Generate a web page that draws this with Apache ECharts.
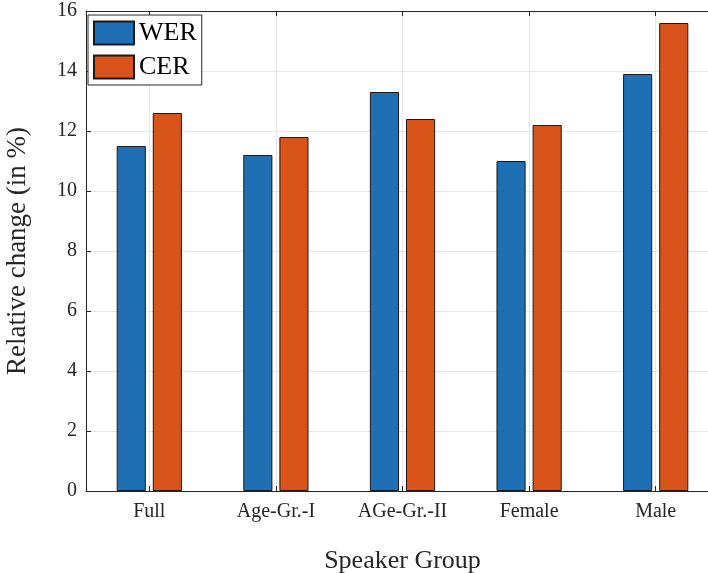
<!DOCTYPE html>
<html>
<head>
<meta charset="utf-8">
<script src="https://cdn.jsdelivr.net/npm/echarts@6/dist/echarts.min.js"></script>
<style>html,body{margin:0;padding:0;background:#fff}#c{width:708px;height:573px}</style>
</head>
<body>
<div id="c"></div>
<script>
const categories = ['Full', 'Age-Gr.-I', 'AGe-Gr.-II', 'Female', 'Male'];
const werValues = [11.5, 11.2, 13.3, 11.0, 13.9];
const cerValues = [12.6, 11.8, 12.4, 12.2, 15.6];
const yTicks = [0, 2, 4, 6, 8, 10, 12, 14, 16];

const font = 'Liberation Serif';
const axisColor = '#262626';
const gridColor = '#e6e6e6';

const chart = echarts.init(document.getElementById('c'));
chart.setOption({
  animation: false,
  grid: { left: 86, top: 11, width: 633, height: 480, containLabel: false, outerBoundsMode: 'none' },
  legend: {
    orient: 'vertical', left: 88, top: 15,
    itemWidth: 40, itemHeight: 23, itemGap: 8, itemTextGap: 4,
    padding: [5, 5, 5, 5],
    borderColor: axisColor, borderWidth: 1, backgroundColor: '#fff',
    textStyle: { fontFamily: font, fontSize: 26, color: '#000' },
    icon: 'rect',
    data: ['WER', 'CER']
  },
  xAxis: [{
    type: 'category', data: categories, position: 'bottom',
    axisLine: { lineStyle: { color: axisColor, width: 1 } },
    axisTick: { show: true, inside: true, alignWithLabel: true, length: 5, lineStyle: { color: axisColor } },
    axisLabel: { fontFamily: font, fontSize: 20, color: '#262626', margin: 11 },
    splitLine: { show: true, alignWithLabel: true, lineStyle: { color: gridColor, width: 1 } },
    name: 'Speaker Group', nameLocation: 'middle', nameGap: 57,
    nameTextStyle: { fontFamily: font, fontSize: 26, color: '#262626' }
  }, {
    type: 'category', data: categories, position: 'top',
    axisLine: { lineStyle: { color: axisColor, width: 1 } },
    axisTick: { show: true, inside: true, alignWithLabel: true, length: 5, lineStyle: { color: axisColor } },
    axisLabel: { show: false }, splitLine: { show: false }
  }],
  yAxis: {
    type: 'value', min: 0, max: 16, interval: 2,
    axisLine: { show: true, lineStyle: { color: axisColor, width: 1 } },
    axisTick: { show: true, inside: true, length: 5, lineStyle: { color: axisColor } },
    axisLabel: { fontFamily: font, fontSize: 20, color: '#262626', margin: 9,
      formatter: v => yTicks.includes(v) ? String(v) : '' },
    splitLine: { show: true, lineStyle: { color: gridColor, width: 1 } },
    name: 'Relative change (in %)', nameLocation: 'middle', nameGap: 55,
    nameTextStyle: { fontFamily: font, fontSize: 27, color: '#262626' }
  },
  series: [{
    name: 'WER', type: 'bar', data: werValues, xAxisIndex: 0,
    barWidth: '23%', barGap: '24%',
    itemStyle: { color: '#1f6fb4', borderColor: '#1a1a1a', borderWidth: 1 }
  }, {
    name: 'CER', type: 'bar', data: cerValues, xAxisIndex: 0,
    barWidth: '23%', barGap: '24%',
    itemStyle: { color: '#d9541a', borderColor: '#1a1a1a', borderWidth: 1 }
  }]
});
</script>
</body>
</html>
